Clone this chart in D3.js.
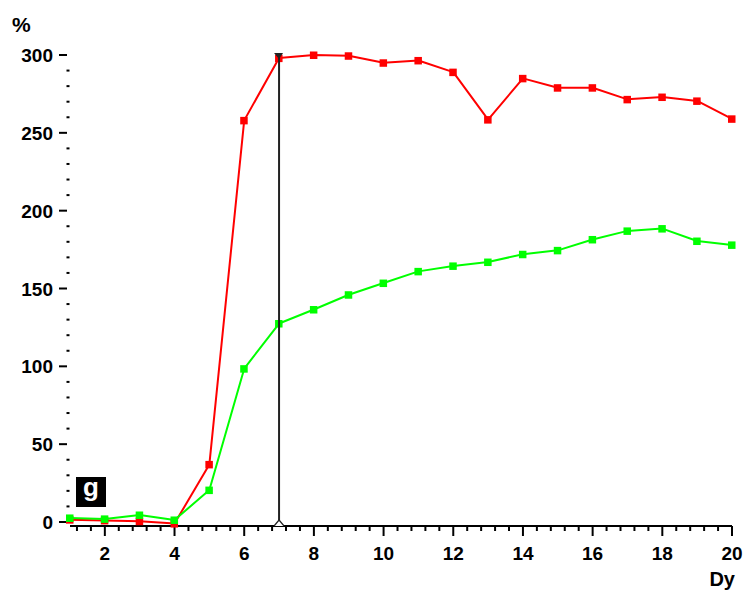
<!DOCTYPE html>
<html>
<head>
<meta charset="utf-8">
<script src="https://cdn.jsdelivr.net/npm/d3@7/dist/d3.min.js"></script>
<style>
  html, body { margin: 0; padding: 0; background: #fff; }
  svg { display: block; }
  text { font-family: "Liberation Sans", Arial, sans-serif; font-weight: bold; }
</style>
</head>
<body>
<svg id="chart" width="744" height="592"></svg>
<script>
// ---- data ----
const days = [1,2,3,4,5,6,7,8,9,10,11,12,13,14,15,16,17,18,19,20];
const redValues = [1.5, 1, 0.5, -1, 37, 258, 298, 300, 299.5, 295, 296.5, 289, 258.5, 285, 279, 279, 271.5, 273, 270.5, 259];
const greenValues = [2.6, 2, 4.5, 1.3, 20.5, 98.5, 127.5, 136.5, 146, 153.5, 161, 164.5, 167, 172, 174.5, 181.5, 187, 188.5, 180.5, 178];
const xMajorTicks = [2,4,6,8,10,12,14,16,18,20];
const yMajorTicks = [0,50,100,150,200,250,300];
const markerDay = 7;
const panelLabel = "g";
const xTitle = "Dy";
const yTitle = "%";

// ---- scales ----
const svg = d3.select("#chart");
const x = d3.scaleLinear().domain([1, 20]).range([70, 732]);
const y = d3.scaleLinear().domain([0, 300]).range([522, 55]);

// ---- x axis ----
const axisY = 526;
const xMinor = d3.range(1.2, 20.0001, 0.4).map(v => Math.round(v * 10) / 10)
  .filter(v => !xMajorTicks.some(m => Math.abs(m - v) < 1e-6));
const gx = svg.append("g");
gx.append("line").attr("x1", x(1)).attr("x2", x(20)).attr("y1", axisY).attr("y2", axisY)
  .attr("stroke", "#000").attr("stroke-width", 2);
gx.selectAll(".minor").data(xMinor).enter().append("line")
  .attr("x1", d => x(d)).attr("x2", d => x(d)).attr("y1", axisY).attr("y2", axisY + 5)
  .attr("stroke", "#000").attr("stroke-width", 2);
gx.selectAll(".major").data(xMajorTicks).enter().append("line")
  .attr("x1", d => x(d)).attr("x2", d => x(d)).attr("y1", axisY).attr("y2", axisY + 10)
  .attr("stroke", "#000").attr("stroke-width", 2);
gx.selectAll(".lab").data(xMajorTicks).enter().append("text")
  .attr("x", d => x(d)).attr("y", 560).attr("text-anchor", "middle")
  .attr("font-size", 19).text(d => d);
svg.append("text").attr("x", 735).attr("y", 586).attr("text-anchor", "end")
  .attr("font-size", 20).text(xTitle);

// ---- y axis ----
const yMinor = d3.range(10, 300, 10).filter(v => v % 50 !== 0);
const gy = svg.append("g");
gy.selectAll(".minor").data(yMinor).enter().append("rect")
  .attr("x", 66.5).attr("y", d => y(d) - 1).attr("width", 3).attr("height", 2).attr("fill", "#000");
gy.selectAll(".major").data(yMajorTicks).enter().append("line")
  .attr("x1", 59).attr("x2", 67).attr("y1", d => y(d)).attr("y2", d => y(d))
  .attr("stroke", "#000").attr("stroke-width", 2);
gy.selectAll(".lab").data(yMajorTicks).enter().append("text")
  .attr("x", 53).attr("y", d => y(d) + 7).attr("text-anchor", "end")
  .attr("font-size", 19).text(d => d);
svg.append("text").attr("x", 12).attr("y", 32).attr("font-size", 21).text(yTitle);

// ---- series ----
const line = d3.line().x(d => x(d[0])).y(d => y(d[1])).curve(d3.curveLinear);
function drawSeries(vals, color) {
  const pts = days.map((d, i) => [d, vals[i]]);
  svg.append("path").datum(pts).attr("d", line)
    .attr("fill", "none").attr("stroke", color).attr("stroke-width", 2)
    .attr("stroke-linejoin", "round");
  svg.append("g").selectAll("rect").data(pts).enter().append("rect")
    .attr("x", d => x(d[0]) - 4).attr("y", d => y(d[1]) - 3.5)
    .attr("width", 7.5).attr("height", 7.5).attr("fill", color);
}
drawSeries(redValues, "#ff0000");
drawSeries(greenValues, "#00ff00");

// ---- vertical cursor line ----
const cx = x(markerDay);
svg.append("line").attr("x1", cx).attr("x2", cx).attr("y1", y(300) - 1).attr("y2", axisY)
  .attr("stroke", "#222").attr("stroke-width", 2);
svg.append("path")
  .attr("d", `M${cx - 5},${y(300) - 2} L${cx + 4},${y(300) - 2} L${cx},${y(300) + 4} Z`)
  .attr("fill", "#222");
svg.append("path")
  .attr("d", `M${cx - 5},${axisY} L${cx},${axisY - 6} L${cx + 5},${axisY}`)
  .attr("fill", "#fff").attr("stroke", "#222").attr("stroke-width", 1.2);

// ---- panel label ----
svg.append("rect").attr("x", 76).attr("y", 477).attr("width", 30).attr("height", 30).attr("fill", "#000");
svg.append("text").attr("x", 91).attr("y", 496).attr("text-anchor", "middle")
  .attr("font-size", 26).attr("fill", "#fff").text(panelLabel);
</script>
</body>
</html>
